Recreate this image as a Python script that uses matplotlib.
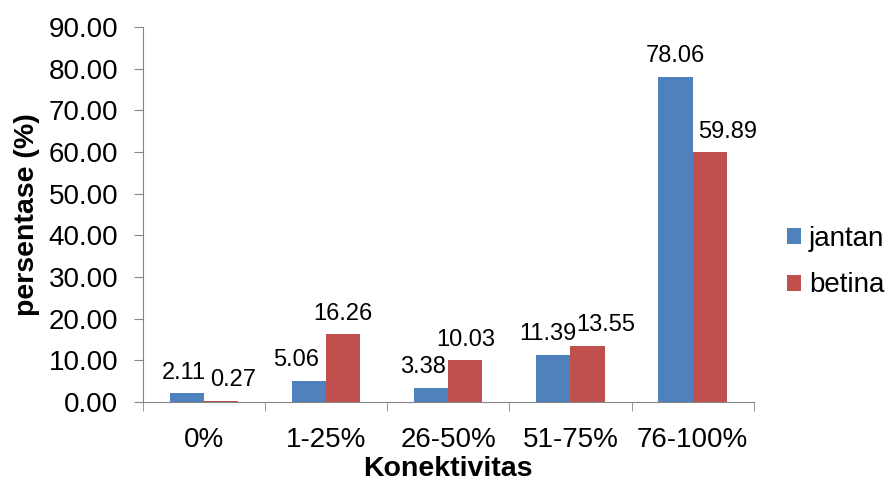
import matplotlib.pyplot as plt
import numpy as np

plt.rcParams["font.family"] = ["Liberation Sans", "DejaVu Sans"]

categories = ["0%", "1-25%", "26-50%", "51-75%", "76-100%"]
jantan = [2.11, 5.06, 3.38, 11.39, 78.06]
betina = [0.27, 16.26, 10.03, 13.55, 59.89]
y_ticks = [0, 10, 20, 30, 40, 50, 60, 70, 80, 90]


def main():
    fig = plt.figure(figsize=(8.92, 4.88), dpi=100)
    ax = fig.add_axes([0.160, 0.176, 0.685, 0.769])

    x = np.arange(len(categories))
    w = 0.28
    ax.bar(x - w / 2, jantan, w, color="#4F81BD", label="jantan")
    ax.bar(x + w / 2, betina, w, color="#C0504D", label="betina")

    # Excel nudges labels sideways where they would collide (offsets in points)
    shift_j = [-2, -9, -6, -4, 0]
    shift_b = [9, 0, 0, 13, 13]
    for i in range(len(categories)):
        ax.annotate("%.2f" % jantan[i], (x[i] - w / 2, jantan[i]), xytext=(shift_j[i], 7),
                    textcoords="offset points", ha="center", va="bottom", fontsize=17)
        ax.annotate("%.2f" % betina[i], (x[i] + w / 2, betina[i]), xytext=(shift_b[i], 7),
                    textcoords="offset points", ha="center", va="bottom", fontsize=17)

    ax.set_xlim(-0.5, len(categories) - 0.5)
    ax.set_ylim(0, 90)
    ax.set_yticks(y_ticks)
    ax.set_yticklabels(["%.2f" % v for v in y_ticks], fontsize=20)
    ax.set_xticks(x)
    ax.set_xticklabels(categories, fontsize=20)
    ax.tick_params(axis="x", length=0, pad=18)
    # category boundary ticks like excel
    ax.set_xticks(np.arange(-0.5, len(categories)), minor=True)
    ax.tick_params(axis="x", which="minor", length=6.5, color="#868686")
    ax.tick_params(axis="y", length=6.5, color="#868686", pad=11)

    for s in ["top", "right"]:
        ax.spines[s].set_visible(False)
    for s in ["left", "bottom"]:
        ax.spines[s].set_color("#868686")

    ax.set_ylabel("persentase (%)", fontsize=20.5, fontweight="bold", labelpad=6)
    ax.set_xlabel("Konektivitas", fontsize=20.5, fontweight="bold", labelpad=2)

    fig.legend(loc="center left", bbox_to_anchor=(0.882, 0.463), frameon=False,
               fontsize=20, handlelength=0.5, handleheight=0.5, handletextpad=0.3,
               labelspacing=0.75, borderaxespad=0, borderpad=0)

    fig.savefig("out.png", dpi=100)


if __name__ == '__main__':
    main()
